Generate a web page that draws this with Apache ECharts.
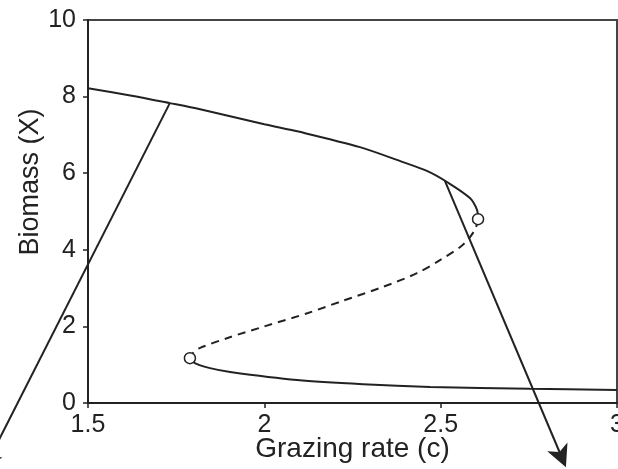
<!DOCTYPE html>
<html><head><meta charset="utf-8">
<script src="https://cdn.jsdelivr.net/npm/echarts/dist/echarts.min.js"></script>
<style>html,body{margin:0;padding:0;background:#fff}#c{width:618px;height:469px}</style>
</head><body><div id="c"></div>
<script>
// Axis ticks
const xTicks = [1.5, 2, 2.5, 3];
const yTicks = [0, 2, 4, 6, 8, 10];
const xTitle = 'Grazing rate (c)';
const yTitle = 'Biomass (X)';

// Stable upper branch (solid)
const upperBranch = [
  [1.5, 8.22], [1.62, 8.03], [1.732, 7.83], [1.818, 7.67], [2.0, 7.28],
  [2.10, 7.08], [2.271, 6.68], [2.393, 6.29], [2.461, 6.06], [2.518, 5.77],
  [2.583, 5.35], [2.603, 5.04], [2.606, 4.80]
];
// Unstable middle branch (dashed)
const middleBranch = [
  [2.606, 4.80], [2.597, 4.52], [2.563, 4.13], [2.498, 3.73], [2.433, 3.39],
  [2.336, 3.03], [2.223, 2.67], [2.124, 2.35], [2.0, 2.0], [1.9, 1.71],
  [1.818, 1.44], [1.80, 1.33], [1.789, 1.17]
];
// Stable lower branch (solid)
const lowerBranch = [
  [1.789, 1.17], [1.803, 1.04], [1.846, 0.91], [1.903, 0.81], [2.093, 0.60],
  [2.28, 0.49], [2.47, 0.42], [2.753, 0.37], [3.0, 0.34]
];
// Fold (bifurcation) points
const foldPoints = [[1.789, 1.17], [2.606, 4.80]];
// Straight arrow paths (start, arrowhead centre)
const leftPath = [[1.732, 7.83], [1.2155, -1.54]];
const rightPath = [[2.512, 5.80], [2.843, -1.41]];

const INK = '#222';
const FONT = 'Liberation Sans, Arial, sans-serif';
const chart = echarts.init(document.getElementById('c'), null, {renderer: 'canvas'});

const ARROW = 'path://M0,0 L7,22 L0,16.5 L-7,22 Z';

chart.setOption({
  animation: false,
  backgroundColor: '#fff',
  grid: {left: 88, right: 1, top: 20, bottom: 66, outerBoundsMode: 'none', containLabel: false,
         show: true, borderColor: '#444', borderWidth: 2},
  xAxis: {
    type: 'value', min: xTicks[0], max: xTicks[xTicks.length - 1], interval: 0.5,
    splitLine: {show: false},
    axisLine: {lineStyle: {color: INK, width: 2}},
    axisTick: {length: 5, lineStyle: {color: INK, width: 1.5}},
    axisLabel: {color: INK, fontSize: 25, fontFamily: FONT, margin: 10, formatter: v => String(v)},
    name: xTitle, nameLocation: 'middle', nameGap: 32, nameMoveOverlap: false,
    nameTextStyle: {color: INK, fontSize: 28, fontFamily: FONT}
  },
  yAxis: {
    type: 'value', min: yTicks[0], max: yTicks[yTicks.length - 1], interval: 2,
    splitLine: {show: false},
    axisLine: {show: true, lineStyle: {color: INK, width: 2}},
    axisTick: {show: true, length: 5, lineStyle: {color: INK, width: 1.5}},
    axisLabel: {color: INK, fontSize: 25, fontFamily: FONT, margin: 12}
  },
  graphic: [{
    type: 'text', x: 31, y: 182, rotation: Math.PI / 2,
    style: {text: yTitle, fill: INK, fontSize: 27, fontFamily: FONT,
            align: 'center', verticalAlign: 'middle'}
  }],
  series: [
    {type: 'lines', coordinateSystem: 'cartesian2d', clip: false, silent: true, z: 3,
     polyline: false, symbol: ['none', ARROW], symbolSize: 22, symbolKeepAspect: true,
     lineStyle: {color: INK, width: 2, opacity: 1}, itemStyle: {color: INK},
     data: [{coords: leftPath}, {coords: rightPath}]},
    {type: 'line', clip: false, symbol: 'none', smooth: 0.3, z: 4,
     lineStyle: {color: INK, width: 2}, data: upperBranch},
    {type: 'line', clip: false, symbol: 'none', smooth: 0.3, z: 4,
     lineStyle: {color: INK, width: 2, type: [8, 6]}, data: middleBranch},
    {type: 'line', clip: false, symbol: 'none', smooth: 0.3, z: 4,
     lineStyle: {color: INK, width: 2}, data: lowerBranch},
    {type: 'scatter', z: 6, symbol: 'circle', symbolSize: 11,
     itemStyle: {color: '#fff', borderColor: INK, borderWidth: 1.5, opacity: 1}, data: foldPoints}
  ]
});
</script>
</body></html>
